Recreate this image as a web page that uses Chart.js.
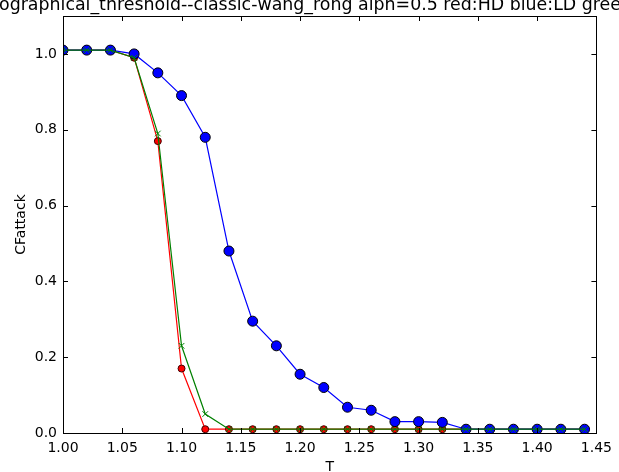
<!DOCTYPE html>
<html>
<head>
<meta charset="utf-8">
<script src="https://cdn.jsdelivr.net/npm/chart.js@4.4.1/dist/chart.umd.min.js"></script>
<style>
  html, body { margin: 0; padding: 0; background: #fff; }
  canvas { display: block; }
</style>
</head>
<body>
<canvas id="chart1" width="619" height="472"></canvas>
<script>
const T = [1.00, 1.02, 1.04, 1.06, 1.08, 1.10, 1.12, 1.14, 1.16, 1.18, 1.20, 1.22,
           1.24, 1.26, 1.28, 1.30, 1.32, 1.34, 1.36, 1.38, 1.40, 1.42, 1.44];
const hd = [1.01, 1.01, 1.01, 0.99, 0.77, 0.17, 0.01, 0.01, 0.01, 0.01, 0.01, 0.01,
            0.01, 0.01, 0.01, 0.01, 0.01, 0.01, 0.01, 0.01, 0.01, 0.01, 0.01];
const ld = [1.01, 1.01, 1.01, 1.00, 0.95, 0.89, 0.78, 0.48, 0.295, 0.23, 0.155, 0.12,
            0.068, 0.06, 0.03, 0.03, 0.028, 0.01, 0.01, 0.01, 0.01, 0.01, 0.01];
const third = [1.01, 1.01, 1.01, 0.99, 0.79, 0.23, 0.05, 0.01, 0.01, 0.01, 0.01, 0.01,
               0.01, 0.01, 0.01, 0.01, 0.01, 0.01, 0.01, 0.01, 0.01, 0.01, 0.01];
const xTicks = [1.00, 1.05, 1.10, 1.15, 1.20, 1.25, 1.30, 1.35, 1.40, 1.45];
const yTicks = [0.0, 0.2, 0.4, 0.6, 0.8, 1.0];
const titleText = 'ographical_threshold--classic-wang_rong alph=0.5 red:HD blue:LD gree';

const FONT = '"DejaVu Sans", sans-serif';

function pts(ys) {
    return T.map((t, i) => ({ x: t, y: ys[i] }));
}

// frame, inward ticks on all four sides, and the title
const framePlugin = {
    id: 'frame',
    afterDraw(chart) {
        const ctx = chart.ctx;
        const a = chart.chartArea;
        const xs = chart.scales.x, ys = chart.scales.y;
        ctx.save();
        ctx.strokeStyle = '#000';
        ctx.lineWidth = 1;
        ctx.beginPath();
        xs.ticks.forEach(t => {
            const px = Math.round(xs.getPixelForValue(t.value)) + 0.5;
            ctx.moveTo(px, a.bottom); ctx.lineTo(px, a.bottom - 5);
            ctx.moveTo(px, a.top); ctx.lineTo(px, a.top + 5);
        });
        ys.ticks.forEach(t => {
            const py = Math.round(ys.getPixelForValue(t.value)) + 0.5;
            ctx.moveTo(a.left, py); ctx.lineTo(a.left + 5, py);
            ctx.moveTo(a.right, py); ctx.lineTo(a.right - 5, py);
        });
        ctx.stroke();
        ctx.strokeRect(Math.round(a.left) + 0.5, Math.round(a.top) + 0.5,
                       Math.round(a.right - a.left), Math.round(a.bottom - a.top));
        ctx.fillStyle = '#000';
        ctx.font = '17.4px ' + FONT;
        ctx.textAlign = 'left';
        ctx.textBaseline = 'alphabetic';
        ctx.fillText(titleText, -1, 10);
        ctx.restore();
    }
};

new Chart(document.getElementById('chart1').getContext('2d'), {
    type: 'line',
    data: {
        datasets: [
            { label: 'HD', data: pts(hd), borderColor: '#ff0000', backgroundColor: '#ff0000',
              borderWidth: 1.2, pointRadius: 3.5, pointBorderColor: '#400000', pointBorderWidth: 1,
              pointStyle: 'circle', order: 3 },
            { label: 'LD', data: pts(ld), borderColor: '#0000ff', backgroundColor: '#0000ff',
              borderWidth: 1.2, pointRadius: 5, pointBorderColor: '#000000', pointBorderWidth: 1,
              pointStyle: 'circle', order: 2 },
            { label: 'third', data: pts(third), borderColor: '#008000', backgroundColor: '#008000',
              borderWidth: 1.2, pointRadius: 4, pointBorderColor: '#008000', pointBorderWidth: 1,
              pointStyle: 'crossRot', order: 1 }
        ]
    },
    options: {
        responsive: false,
        animation: false,
        layout: { padding: { top: 16, right: 18, left: 0, bottom: 0 } },
        plugins: { legend: { display: false }, tooltip: { enabled: false } },
        scales: {
            x: {
                type: 'linear', min: 1.0, max: 1.45,
                afterBuildTicks: s => { s.ticks = xTicks.map(v => ({ value: v })); },
                afterFit: s => { s.height = 39; },
                grid: { display: false, drawTicks: false },
                border: { display: false },
                ticks: { padding: 7, color: '#000', font: { family: FONT, size: 14 },
                         callback: v => v.toFixed(2) },
                title: { display: true, text: 'T', color: '#000', padding: 0,
                         font: { family: FONT, size: 14, lineHeight: 0.7 } }
            },
            y: {
                type: 'linear', min: 0, max: 1.1,
                afterBuildTicks: s => { s.ticks = yTicks.map(v => ({ value: v })); },
                afterFit: s => { s.width = 63; },
                grid: { display: false, drawTicks: false },
                border: { display: false },
                ticks: { padding: 6, color: '#000', font: { family: FONT, size: 14 },
                         callback: v => v.toFixed(1) },
                title: { display: true, text: 'CFattack', color: '#000', padding: { top: 14, bottom: 0 },
                         font: { family: FONT, size: 14, lineHeight: 1 } }
            }
        }
    },
    plugins: [framePlugin]
});
</script>
</body>
</html>
